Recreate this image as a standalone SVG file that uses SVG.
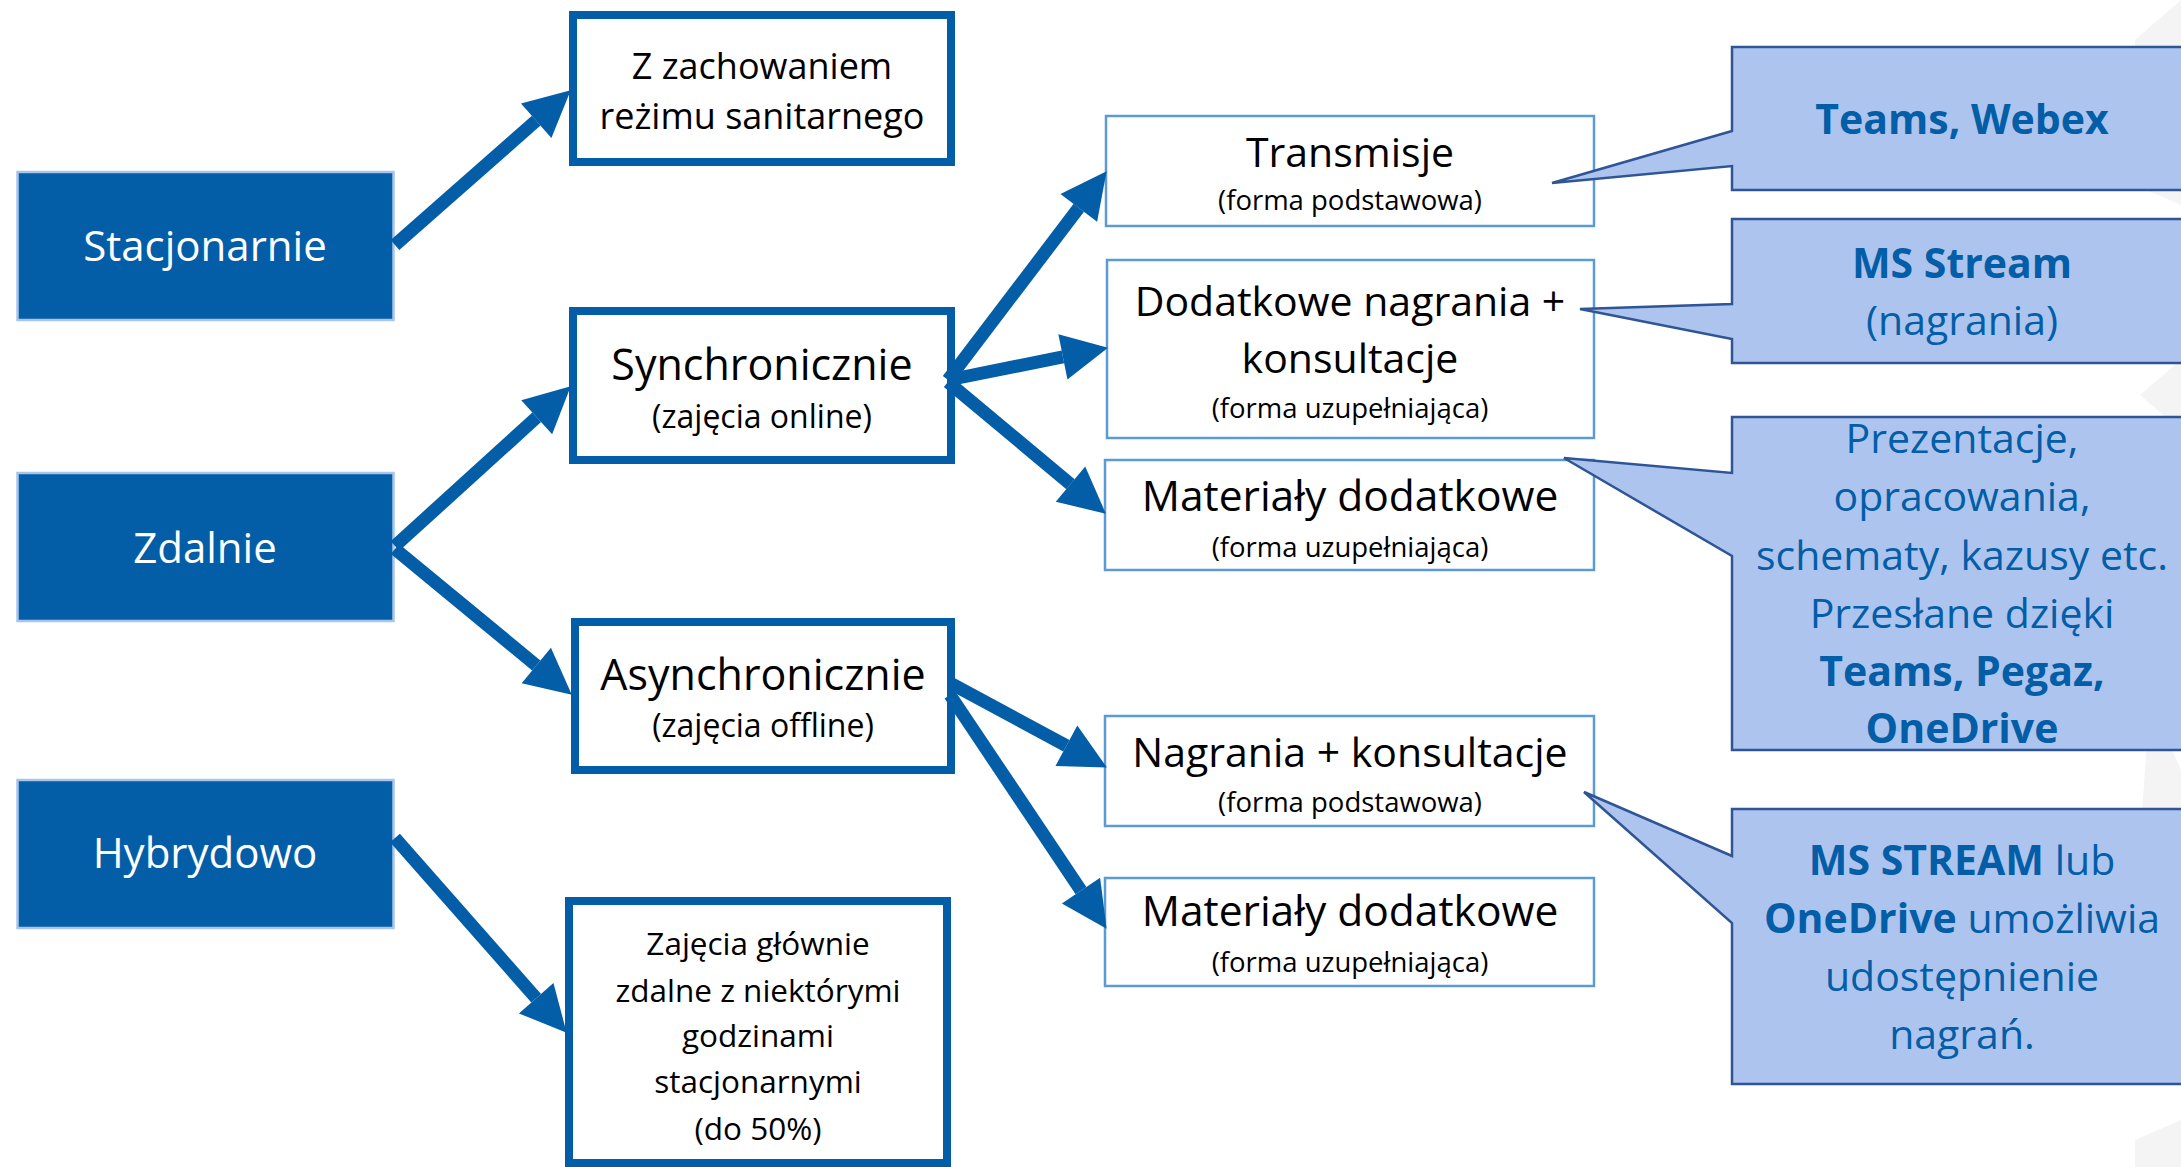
<svg xmlns="http://www.w3.org/2000/svg" width="2181" height="1167" viewBox="0 0 2181 1167">
<defs>
<style>
.t{font-family:"Open Sans","Noto Sans","Liberation Sans",sans-serif;text-anchor:middle}
.dark rect{fill:#035DA7;stroke:#A9C5EB;stroke-width:2.5}
.dark text{fill:#fff;font-size:42px}
.mid rect{fill:#fff;stroke:#035DA7;stroke-width:8}
.mid text{fill:#000}
.thin rect{fill:#fff;stroke:#5B9BD5;stroke-width:2.5}
.thin text{fill:#000}
.big{font-size:41px}
.mat{font-size:42.5px}
.sub{font-size:27.5px}
.call path{fill:#ADC5EE;stroke:#2F5597;stroke-width:2.5;stroke-linejoin:miter}
.call text{fill:#035DA7;font-size:41px}
.b{font-weight:bold}
.conn path{fill:none;stroke:#035DA7;stroke-width:13}
</style>
<marker id="ah" markerUnits="userSpaceOnUse" markerWidth="47" markerHeight="47" refX="0" refY="23" orient="auto" overflow="visible">
<path d="M0,0 L46,23 L0,46 Z" fill="#035DA7"/>
</marker>
</defs>
<rect width="2181" height="1167" fill="#fff"/>
<g id="bg" fill="#F4F4F4">
<polygon points="2135,40 2181,0 2181,205 2135,185"/>
<polygon points="2181,360 2140,395 2181,430"/>
<polygon points="2181,770 2150,700 2140,840 2181,900"/>
<polygon points="2181,1120 2135,1140 2135,1167 2181,1167"/>
</g>

<g id="stacjonarnie" class="dark t"><rect x="17.5" y="172" width="376" height="148"/><text x="205" y="261">Stacjonarnie</text></g>
<g id="zdalnie" class="dark t"><rect x="17.5" y="473" width="376" height="148"/><text x="205" y="563">Zdalnie</text></g>
<g id="hybrydowo" class="dark t"><rect x="17.5" y="780" width="376" height="148"/><text x="205" y="868">Hybrydowo</text></g>

<g id="sanitarny" class="mid t"><rect x="573" y="15" width="378" height="147"/>
<text x="762" y="79" style="font-size:36px">Z zachowaniem</text>
<text x="762" y="129" style="font-size:36px">reżimu sanitarnego</text></g>
<g id="synchronicznie" class="mid t"><rect x="573" y="311" width="378" height="149"/>
<text x="762" y="380" style="font-size:43px">Synchronicznie</text>
<text x="762" y="428" style="font-size:32px">(zajęcia online)</text></g>
<g id="asynchronicznie" class="mid t"><rect x="575" y="622" width="376" height="148"/>
<text x="763" y="690" style="font-size:43px">Asynchronicznie</text>
<text x="763" y="737" style="font-size:32px">(zajęcia offline)</text></g>
<g id="hybryda-opis" class="mid t" style="font-size:31.5px"><rect x="569" y="901" width="378" height="262"/>
<text x="758" y="955">Zajęcia głównie</text>
<text x="758" y="1002">zdalne z niektórymi</text>
<text x="758" y="1047">godzinami</text>
<text x="758" y="1093">stacjonarnymi</text>
<text x="758" y="1140">(do 50%)</text></g>

<g id="transmisje" class="thin t"><rect x="1106" y="116" width="488" height="110"/>
<text x="1350" y="167" class="big">Transmisje</text>
<text x="1350" y="210" class="sub">(forma podstawowa)</text></g>
<g id="dodatkowe-nagrania" class="thin t"><rect x="1107" y="260" width="487" height="178"/>
<text x="1350" y="316" class="big">Dodatkowe nagrania +</text>
<text x="1350" y="373" class="big">konsultacje</text>
<text x="1350" y="418" class="sub">(forma uzupełniająca)</text></g>
<g id="materialy-sync" class="thin t"><rect x="1105" y="460" width="489" height="110"/>
<text x="1350" y="511" class="mat">Materiały dodatkowe</text>
<text x="1350" y="557" class="sub">(forma uzupełniająca)</text></g>
<g id="nagrania-konsultacje" class="thin t"><rect x="1105" y="716" width="489" height="110"/>
<text x="1350" y="767" class="big">Nagrania + konsultacje</text>
<text x="1350" y="812" class="sub">(forma podstawowa)</text></g>
<g id="materialy-async" class="thin t"><rect x="1105" y="878" width="489" height="108"/>
<text x="1350" y="926" class="mat">Materiały dodatkowe</text>
<text x="1350" y="972" class="sub">(forma uzupełniająca)</text></g>

<g id="callout-teams" class="call t"><path d="M1732,47 H2195 V190 H1732 V166 L1552,183 L1732,131 Z"/>
<text x="1962" y="134" class="b">Teams, Webex</text></g>
<g id="callout-stream" class="call t"><path d="M1732,219 H2195 V363 H1732 V339 L1580,309 L1732,304 Z"/>
<text x="1962" y="278" class="b">MS Stream</text>
<text x="1962" y="335">(nagrania)</text></g>
<g id="callout-materialy" class="call t"><path d="M1732,417 H2195 V750 H1732 V556 L1564,458 L1732,473 Z"/>
<text x="1962" y="453">Prezentacje,</text>
<text x="1962" y="511">opracowania,</text>
<text x="1962" y="570">schematy, kazusy etc.</text>
<text x="1962" y="628">Przesłane dzięki</text>
<text x="1962" y="686" class="b">Teams, Pegaz,</text>
<text x="1962" y="743" class="b">OneDrive</text></g>
<g id="callout-onedrive" class="call t"><path d="M1732,809 H2195 V1084 H1732 V923 L1584,792 L1732,856 Z"/>
<text x="1962" y="875"><tspan class="b">MS STREAM</tspan> lub</text>
<text x="1962" y="933"><tspan class="b">OneDrive</tspan> umożliwia</text>
<text x="1962" y="991">udostępnienie</text>
<text x="1962" y="1049">nagrań.</text></g>

<g id="connectors" class="conn">
<path d="M395,245 L536.2,120.7" marker-end="url(#ah)"/>
<path d="M395,546 L536.7,417.3" marker-end="url(#ah)"/>
<path d="M395,549 L536.3,665.4" marker-end="url(#ah)"/>
<path d="M395,838 L536.2,998.2" marker-end="url(#ah)"/>
<path d="M948,380 L1078.8,207.8" marker-end="url(#ah)"/>
<path d="M948,380 L1062.9,356.9" marker-end="url(#ah)"/>
<path d="M948,382 L1070.5,484.2" marker-end="url(#ah)"/>
<path d="M950,683 L1066.4,745.7" marker-end="url(#ah)"/>
<path d="M950,695 L1081,890.6" marker-end="url(#ah)"/>
</g>
</svg>
